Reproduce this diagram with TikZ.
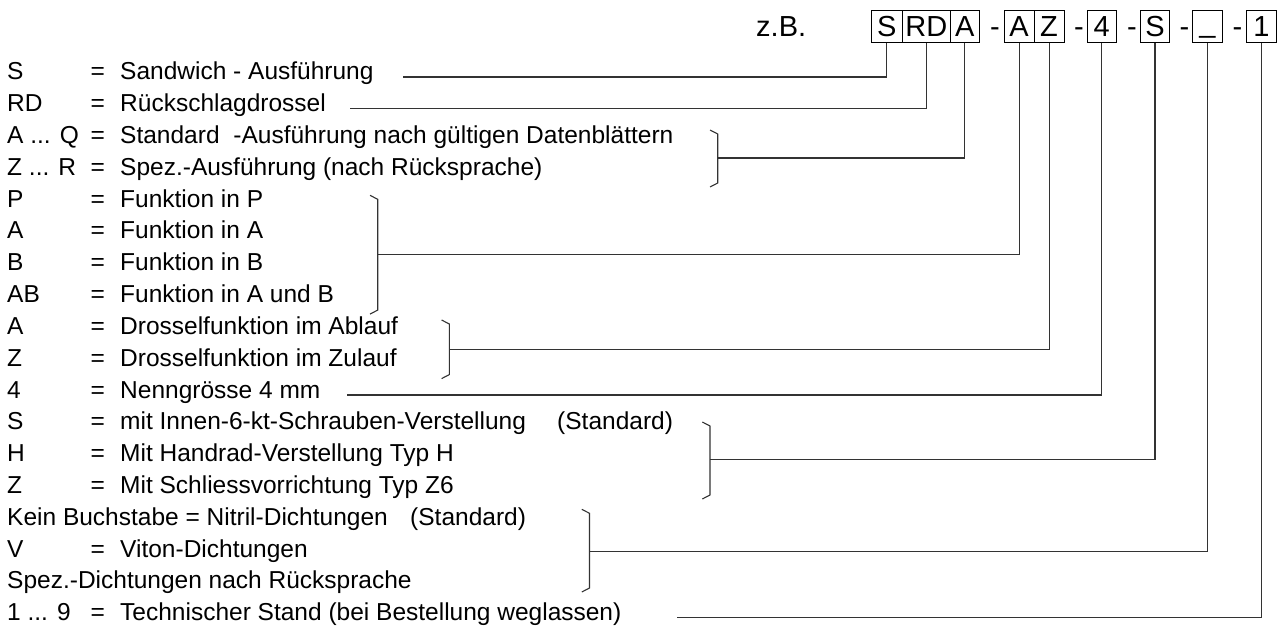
\documentclass[tikz,border=0pt]{standalone}
\usepackage{fontspec}
\setmainfont{Liberation Sans}
\newcommand{\myellip}{...}
\begin{document}
\begin{tikzpicture}[x=1pt,y=-1pt,
  txt/.style={anchor=base west, inner sep=0pt, font=\fontsize{24.5}{29}\selectfont},
  toptxt/.style={anchor=base, inner sep=0pt, font=\fontsize{29}{34}\selectfont},
  codebox/.style={draw, line width=1pt, anchor=north west, minimum height=32pt, inner sep=0pt,
    text height=21pt, text depth=0pt, align=center, font=\fontsize{29}{34}\selectfont},
  conn/.style={line width=1.1pt, draw=black!80},
  brk/.style={line width=1.1pt, draw=black!80, line join=miter}]
\useasboundingbox (0,0) rectangle (1277,628);

% ---- code line ----
\node[toptxt, anchor=base west] (zb) at (756,36.5) {z.B.};
\node[codebox, minimum width=30.4pt] (bS)  at (871.2,10) {S};
\node[codebox, minimum width=48.3pt] (bRD) at (901.6,10) {RD};
\node[codebox, minimum width=28.8pt] (bA)  at (949.9,10) {A};
\node[toptxt] (m1) at (995,36.5) {-};
\node[codebox, minimum width=29.8pt] (bA2) at (1003.7,10) {A};
\node[codebox, minimum width=30.1pt] (bZ)  at (1033.5,10) {Z};
\node[toptxt] (m2) at (1079,36.5) {-};
\node[codebox, minimum width=29.4pt] (b4)  at (1086.6,10) {4};
\node[toptxt] (m3) at (1132,36.5) {-};
\node[codebox, minimum width=29pt] (bS2) at (1140,10) {S};
\node[toptxt] (m4) at (1184.5,36.5) {-};
\node[codebox, minimum width=30pt] (bU)  at (1192,10) {\raisebox{4pt}{\_}};
\node[toptxt] (m5) at (1237.5,36.5) {-};
\node[codebox, minimum width=30pt] (b1)  at (1245.8,10) {1};

% ---- legend rows ----
\foreach \k/\c/\d in {0/S/Sandwich - Ausführung,
  1/RD/Rückschlagdrossel,
  2/A \myellip{} Q/Standard\hspace{7pt} -Ausführung nach gültigen Datenblättern,
  3/Z \myellip{} R/Spez.-Ausführung (nach Rücksprache),
  4/P/Funktion in P,
  5/A/Funktion in A,
  6/B/Funktion in B,
  7/AB/Funktion in A und B,
  8/A/Drosselfunktion im Ablauf,
  9/Z/Drosselfunktion im Zulauf,
  10/4/Nenngrösse 4 mm,
  11/S/mit Innen-6-kt-Schrauben-Verstellung,
  12/H/Mit Handrad-Verstellung Typ H,
  13/Z/Mit Schliessvorrichtung Typ Z6,
  15/V/Viton-Dichtungen,
  17/1 \myellip{} 9/Technischer Stand (bei Bestellung weglassen)}{
  \node[txt] (c\k) at (7,80+31.8*\k) {\c};
  \node[txt] (e\k) at (90.5,80+31.8*\k) {=};
  \node[txt] (d\k) at (120,80+31.8*\k) {\d};
}
\node[txt] (s11) at (557,80+31.8*11) {(Standard)};
\node[txt] (c14) at (7,80+31.8*14) {Kein Buchstabe = Nitril-Dichtungen};
\node[txt] (s14) at (410,80+31.8*14) {(Standard)};
\node[txt] (c16) at (7,80+31.8*16) {Spez.-Dichtungen nach Rücksprache};

% ---- direct connectors ----
\coordinate (l0) at (403,77);
\coordinate (l1) at (350,108.8);
\coordinate (l10) at (347,395);
\coordinate (l17) at (677,617.6);
\draw[conn] (l0) -| (bS.south);
\draw[conn] (l1) -| (bRD.south);
\draw[conn] (l10) -| (b4.south);
\draw[conn] (l17) -| (b1.south);

% ---- brackets ----
\coordinate (k1t) at (717.7,134);   \coordinate (k1b) at (717.7,183);   \coordinate (k1m) at (717.7,158);
\coordinate (k2t) at (377.7,199.3); \coordinate (k2b) at (377.7,310.1); \coordinate (k2m) at (377.7,254.7);
\coordinate (k3t) at (449.3,324);   \coordinate (k3b) at (449.3,374.6); \coordinate (k3m) at (449.3,349.3);
\coordinate (k4t) at (710,426);     \coordinate (k4b) at (710,495);     \coordinate (k4m) at (710,459.3);
\coordinate (k5t) at (589.5,513.3); \coordinate (k5b) at (589.5,588);   \coordinate (k5m) at (589.5,551.5);
\foreach \i in {1,2,3,4,5}{
  \draw[brk] (k\i t) ++(-7.7,-4) -- (k\i t) -- (k\i b) -- ++(-7.7,4);
}
\draw[conn] (k1m) -| (bA.south);
\draw[conn] (k2m) -| (bA2.south);
\draw[conn] (k3m) -| (bZ.south);
\draw[conn] (k4m) -| (bS2.south);
\draw[conn] (k5m) -| (bU.south);
\end{tikzpicture}
\end{document}
